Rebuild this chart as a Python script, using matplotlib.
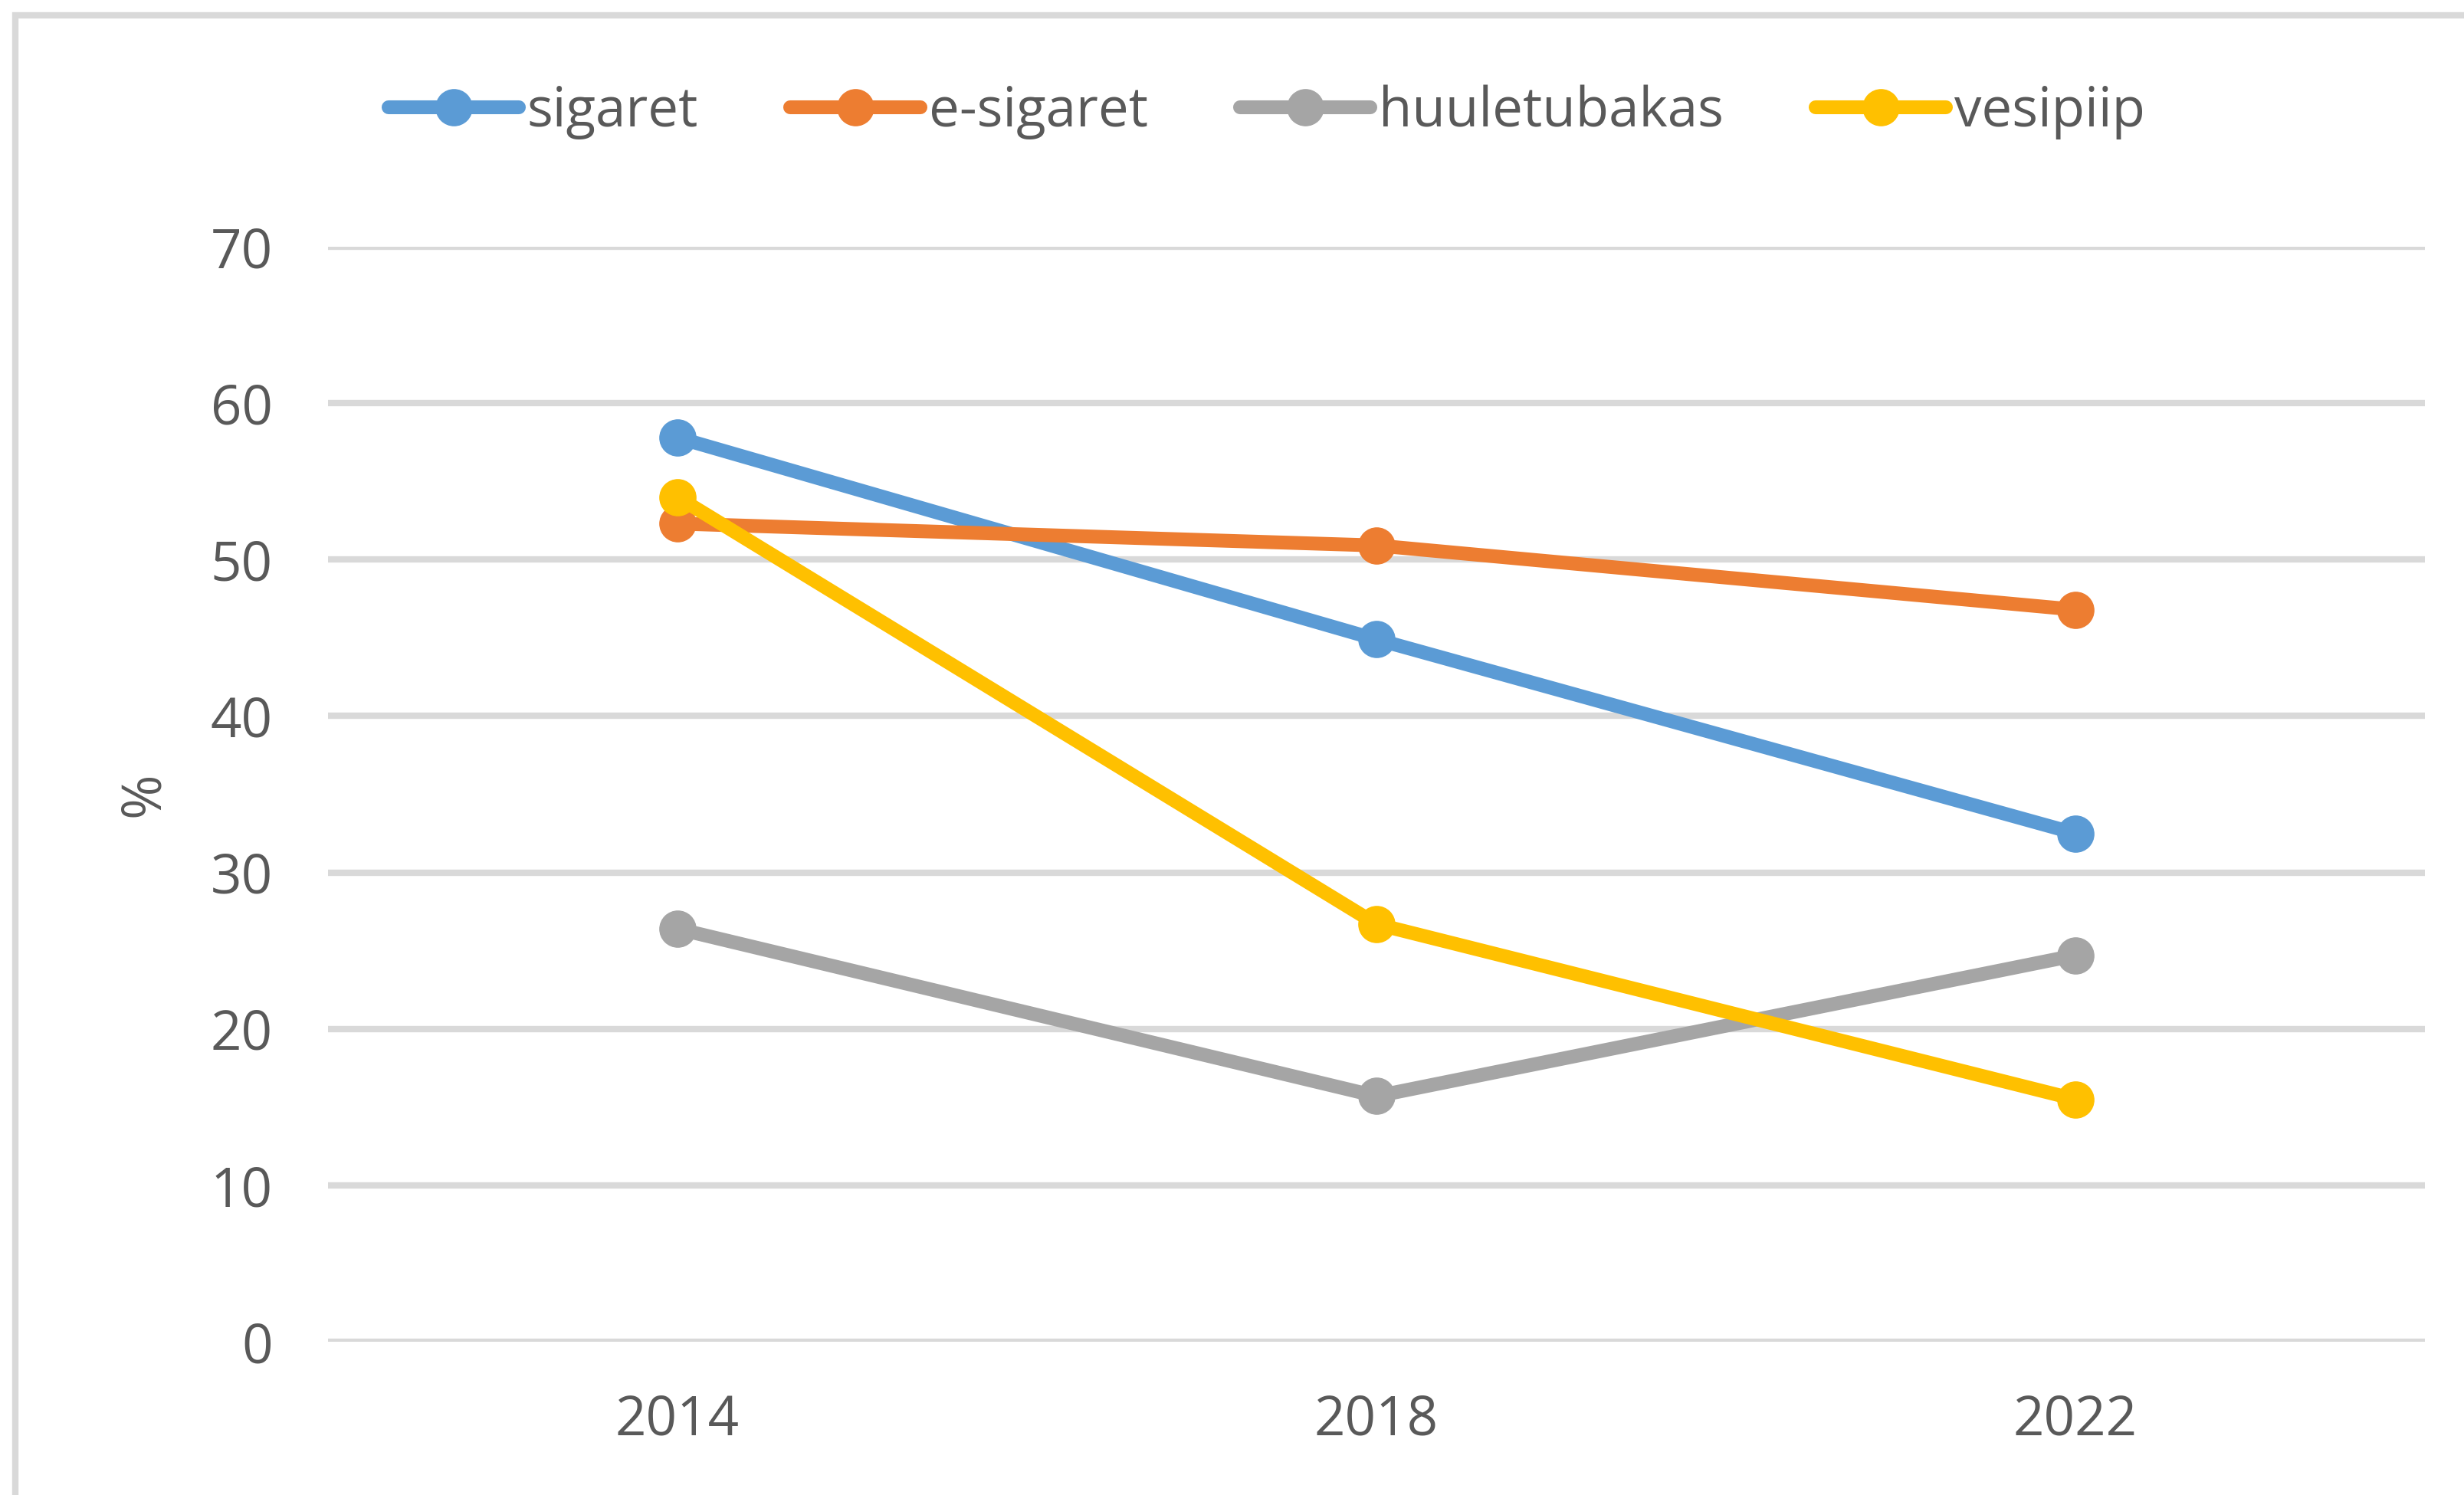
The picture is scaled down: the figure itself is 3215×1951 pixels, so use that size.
import matplotlib
matplotlib.use("Agg")
import matplotlib.pyplot as plt
from matplotlib.patches import Rectangle

years = ["2014", "2018", "2022"]
sigaret = [57.8, 44.9, 32.5]
e_sigaret = [52.3, 50.9, 46.8]
huuletubakas = [26.4, 15.7, 24.7]
vesipiip = [54.0, 26.7, 15.5]

series_names = ["sigaret", "e-sigaret", "huuletubakas", "vesipiip"]
series_colors = ["#5B9BD5", "#ED7D31", "#A5A5A5", "#FFC000"]
yticks = [0, 10, 20, 30, 40, 50, 60, 70]

plt.rcParams['font.family'] = ['Open Sans', 'DejaVu Sans']
text_color = '#595959'

fig = plt.figure(figsize=(32.15, 19.51), dpi=100)
ax = fig.add_axes([0.1331, 0.1025, 0.8510, 0.7325])

x = range(len(years))
for name, vals, col in zip(series_names, [sigaret, e_sigaret, huuletubakas, vesipiip], series_colors):
    ax.plot(x, vals, color=col, linewidth=13, marker='o', markersize=34,
            label=name, solid_capstyle='round', zorder=3)

ax.set_xlim(-0.5, 2.5)
ax.set_ylim(0, 70)
ax.set_xticks(list(x))
ax.set_xticklabels(years)
ax.set_yticks(yticks)
ax.grid(axis='y', color='#D9D9D9', linewidth=6)
ax.set_axisbelow(True)
for s in ax.spines.values():
    s.set_visible(False)
ax.tick_params(axis='both', length=0, labelsize=51, labelcolor=text_color)
ax.tick_params(axis='y', pad=52)
ax.tick_params(axis='x', pad=48)
ax.set_ylabel('%', fontsize=51, color=text_color, labelpad=36)

fig.legend(loc='center', bbox_to_anchor=(0.514, 0.925), ncol=4, frameon=False,
           fontsize=51, labelcolor=text_color, handlelength=2.4,
           handletextpad=0.15, columnspacing=1.7)

# chart border (extends past right/bottom edge)
fig.patches.append(Rectangle((20 / 3215, -0.1), 1.2, 1.1 - 20 / 1951,
                             transform=fig.transFigure, fill=False,
                             edgecolor='#D9D9D9', linewidth=6))

fig.savefig('out.png', dpi=100)
